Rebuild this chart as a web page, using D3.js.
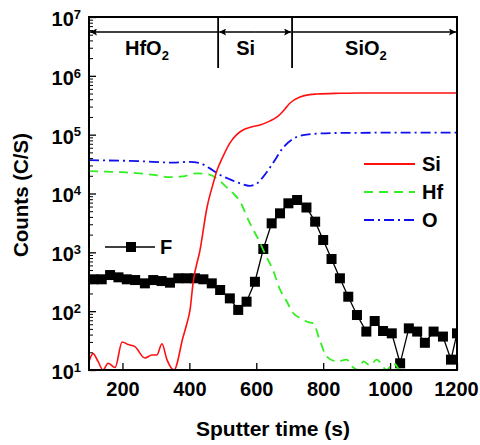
<!DOCTYPE html>
<html>
<head>
<meta charset="utf-8">
<script src="https://cdn.jsdelivr.net/npm/d3@7"></script>
<style>
  body { margin: 0; background: #fff; }
  svg text { font-family: "Liberation Sans", Arial, sans-serif; font-weight: bold; fill: #000; }
</style>
</head>
<body>
<script>
// ==================== Data ============================
// Si (red, solid)
const siTime   = [100, 112, 127, 142, 157, 178, 199, 217, 237, 267, 288, 303, 318, 333, 354, 381, 393, 402, 411, 432, 453, 470, 483, 500, 521, 540, 560, 585, 611, 640, 662, 685, 701, 731, 760, 781, 850, 910, 1000, 1100, 1200];
const siCounts = [14, 19, 14, 10, 13, 11, 30, 27, 25, 16, 18, 18, 28, 15, 10, 36, 63, 105, 300, 1100, 5900, 14000, 25000, 42000, 72000, 98000, 120000, 135000, 146000, 170000, 200000, 270000, 345000, 437000, 480000, 491000, 505000, 511000, 510000, 510000, 510000];

// Hf (green, dashed)
const hfTime   = [100, 150, 200, 250, 300, 340, 380, 420, 460, 490, 510, 530, 550, 580, 610, 630, 650, 670, 690, 710, 735, 755, 770, 790, 810, 840, 870, 890, 905, 920, 940, 960, 990, 1010, 1040, 1080, 1120, 1150, 1180, 1200];
const hfCounts = [24000, 23500, 23000, 22000, 20500, 19000, 19500, 22000, 21000, 16500, 13000, 10200, 7500, 3200, 1500, 850, 500, 240, 150, 93, 75, 65, 62, 32, 17, 14, 15, 11, 10, 14, 12, 15, 10, 13, 8, 7, 8, 10, 7, 8];

// O (blue, dash-dot)
const oTime   = [100, 150, 250, 350, 400, 430, 460, 490, 520, 550, 580, 600, 620, 650, 680, 710, 740, 780, 850, 1000, 1200];
const oCounts = [37000, 36500, 35500, 33500, 34500, 33000, 27000, 21000, 17500, 15000, 13500, 14500, 19000, 33000, 60000, 85000, 98000, 104000, 107000, 108000, 108000];

// F (black squares)
const fTime   = [113, 138, 163, 188, 213, 238, 267, 292, 317, 342, 367, 392, 417, 442, 467, 492, 521, 546, 571, 596, 621, 646, 671, 696, 722, 750, 776, 800, 825, 850, 875, 901, 929, 954, 979, 1005, 1030, 1056, 1081, 1104, 1130, 1158, 1182, 1200];
const fCounts = [348, 348, 411, 376, 348, 338, 297, 338, 325, 305, 362, 362, 362, 348, 297, 229, 165, 105, 145, 316, 1140, 3110, 4600, 6810, 7750, 5780, 3320, 1620, 770, 362, 176, 86, 45, 68, 46, 42, 13, 51, 45, 29, 45, 37, 15, 42];

// Axis ticks and region labels
const xTicks = [200, 400, 600, 800, 1000, 1200];
const yExponents = [1, 2, 3, 4, 5, 6, 7];
const regionBounds = [100, 486, 707, 1200];
const regionNames = [['HfO', '2'], ['Si', ''], ['SiO', '2']];

// ==================== Set up ============================
const W = 480, H = 445;
const margin = {top: 17, right: 23, bottom: 75, left: 89},
      width = W - margin.left - margin.right,
      height = H - margin.top - margin.bottom;

const x = d3.scaleLinear().domain([100, 1200]).range([0, width]);
const y = d3.scaleLog().domain([10, 1e7]).range([height, 0]);

const zip = (t, c) => t.map((d, i) => ({t: d, c: c[i]}));

const svg = d3.select('body').append('svg')
    .attr('width', W).attr('height', H);

const g = svg.append('g')
    .attr('transform', `translate(${margin.left}, ${margin.top})`);

const defs = svg.append('defs');
defs.append('clipPath').attr('id', 'plot')
  .append('rect').attr('width', width).attr('height', height);

// arrow head
defs.append('marker').attr('id', 'arrowEnd')
    .attr('viewBox', '0 0 10 10').attr('refX', 10).attr('refY', 5)
    .attr('markerWidth', 11).attr('markerHeight', 7).attr('markerUnits', 'userSpaceOnUse')
    .attr('orient', 'auto')
  .append('path').attr('d', 'M0,0 L10,5 L0,10 L2,5 Z').attr('fill', '#000');

// ==================== Curves ============================
const smooth = d3.line()
    .curve(d3.curveMonotoneX)
    .x(d => x(d.t))
    .y(d => y(Math.max(d.c, 1)));

const straight = d3.line()
    .x(d => x(d.t))
    .y(d => y(d.c));

const plot = g.append('g').attr('clip-path', 'url(#plot)');

// F line + squares
plot.append('path')
    .datum(zip(fTime, fCounts))
    .attr('fill', 'none').attr('stroke', '#000').attr('stroke-width', 1.3)
    .attr('d', straight);

plot.selectAll('rect.f')
    .data(zip(fTime, fCounts))
    .enter().append('rect')
    .attr('class', 'f')
    .attr('x', d => x(d.t) - 5).attr('y', d => y(d.c) - 5)
    .attr('width', 10).attr('height', 10)
    .attr('fill', '#000');

plot.append('path')
    .datum(zip(hfTime, hfCounts))
    .attr('fill', 'none').attr('stroke', '#33ee22').attr('stroke-width', 1.8)
    .attr('stroke-dasharray', '9,6')
    .attr('d', smooth);

plot.append('path')
    .datum(zip(oTime, oCounts))
    .attr('fill', 'none').attr('stroke', '#1010ee').attr('stroke-width', 1.8)
    .attr('stroke-dasharray', '10,4,2,4')
    .attr('d', smooth);

plot.append('path')
    .datum(zip(siTime, siCounts))
    .attr('fill', 'none').attr('stroke', '#ff1010').attr('stroke-width', 1.6)
    .attr('d', smooth);

// ==================== Axes ============================
// Y major ticks
const yAxis = g.append('g')
    .call(d3.axisLeft(y)
      .tickValues(yExponents.map(e => Math.pow(10, e)))
      .tickSize(-7).tickPadding(8)
      .tickFormat(''));
yAxis.select('.domain').remove();
yAxis.selectAll('line').attr('stroke-width', 1.3);
yAxis.selectAll('.tick text')
    .attr('dy', '0.42em')
    .style('font-size', '20px')
    .each(function(d) {
      const t = d3.select(this);
      t.append('tspan').text('10');
      t.append('tspan').attr('dy', '-0.55em').style('font-size', '13px').text(Math.round(Math.log10(d)));
    });

// Y minor ticks
const minorVals = [];
yExponents.slice(0, -1).forEach(e => { for (let k = 2; k < 10; k++) minorVals.push(k * Math.pow(10, e)); });
const yMinor = g.append('g')
    .call(d3.axisLeft(y).tickValues(minorVals).tickSize(-4).tickFormat(''));
yMinor.select('.domain').remove();
yMinor.selectAll('line').attr('stroke-width', 1);

// X axis
const xAxis = g.append('g')
    .attr('transform', `translate(0, ${height})`)
    .call(d3.axisBottom(x).tickValues(xTicks).tickSize(-7).tickPadding(12).tickFormat(d3.format('d')));
xAxis.select('.domain').remove();
xAxis.selectAll('line').attr('stroke-width', 1.3);
xAxis.selectAll('text').style('font-size', '20px').attr('dy', '0.71em');
xAxis.selectAll('.tick:last-of-type text').attr('dx', '-1');

// Frame
g.append('rect')
    .attr('width', width).attr('height', height)
    .attr('fill', 'none').attr('stroke', '#000').attr('stroke-width', 2);

// Axis titles
svg.append('text')
    .attr('transform', `translate(28, ${margin.top + 178}) rotate(-90)`)
    .style('text-anchor', 'middle').style('font-size', '20.5px')
    .text('Counts (C/S)');

svg.append('text')
    .attr('x', 273).attr('y', 436)
    .style('text-anchor', 'middle').style('font-size', '21px')
    .text('Sputter time (s)');

// ==================== Regions ============================
const arrowY = 15;
const arrow = (x1, x2) => g.append('line')
    .attr('x1', x1).attr('x2', x2)
    .attr('y1', arrowY).attr('y2', arrowY)
    .attr('stroke', '#000').attr('stroke-width', 1.5)
    .attr('marker-end', 'url(#arrowEnd)');

// HfO2: arrow pointing left at left edge
arrow(x(regionBounds[1]), x(regionBounds[0]) + 1);
// Si: arrows on both ends
const siMid = (x(regionBounds[1]) + x(regionBounds[2])) / 2;
arrow(siMid, x(regionBounds[1]) + 1);
arrow(siMid, x(regionBounds[2]) - 1);
// SiO2: arrow pointing right at right edge
arrow(x(regionBounds[2]), x(regionBounds[3]) - 1);

// dividers
g.selectAll('line.div')
    .data(regionBounds.slice(1, 3))
    .enter().append('line')
    .attr('class', 'div')
    .attr('x1', d => x(d)).attr('x2', d => x(d))
    .attr('y1', 0).attr('y2', 51)
    .attr('stroke', '#000').attr('stroke-width', 1.8);

// region labels
const labelX = [x(100) + 36, x(486) + 18, x(707) + 53];
regionNames.forEach((n, i) => {
  const t = g.append('text')
      .attr('x', labelX[i]).attr('y', 38)
      .style('font-size', '20px');
  t.append('tspan').text(n[0]);
  if (n[1]) t.append('tspan').attr('dy', '0.35em').style('font-size', '13px').text(n[1]);
});

// ==================== Legends ============================
const legendItems = [
  {name: 'Si', color: '#ff1010', dash: null, yv: 147},
  {name: 'Hf', color: '#33ee22', dash: '9,6', yv: 175},
  {name: 'O',  color: '#1010ee', dash: '10,4,2,4', yv: 203}
];
const leg = g.selectAll('g.leg').data(legendItems).enter().append('g').attr('class', 'leg');
leg.append('line')
    .attr('x1', 275).attr('x2', 326)
    .attr('y1', d => d.yv).attr('y2', d => d.yv)
    .attr('stroke', d => d.color).attr('stroke-width', 1.8)
    .attr('stroke-dasharray', d => d.dash);
leg.append('text')
    .attr('x', 333).attr('y', d => d.yv + 7)
    .style('font-size', '20px')
    .text(d => d.name);

// F legend
g.append('line')
    .attr('x1', 16).attr('x2', 66).attr('y1', 230).attr('y2', 230)
    .attr('stroke', '#000').attr('stroke-width', 1.3);
g.append('rect')
    .attr('x', 42 - 5).attr('y', 230 - 5).attr('width', 10).attr('height', 10)
    .attr('fill', '#000');
g.append('text')
    .attr('x', 71).attr('y', 237)
    .style('font-size', '20px')
    .text('F');
</script>
</body>
</html>
